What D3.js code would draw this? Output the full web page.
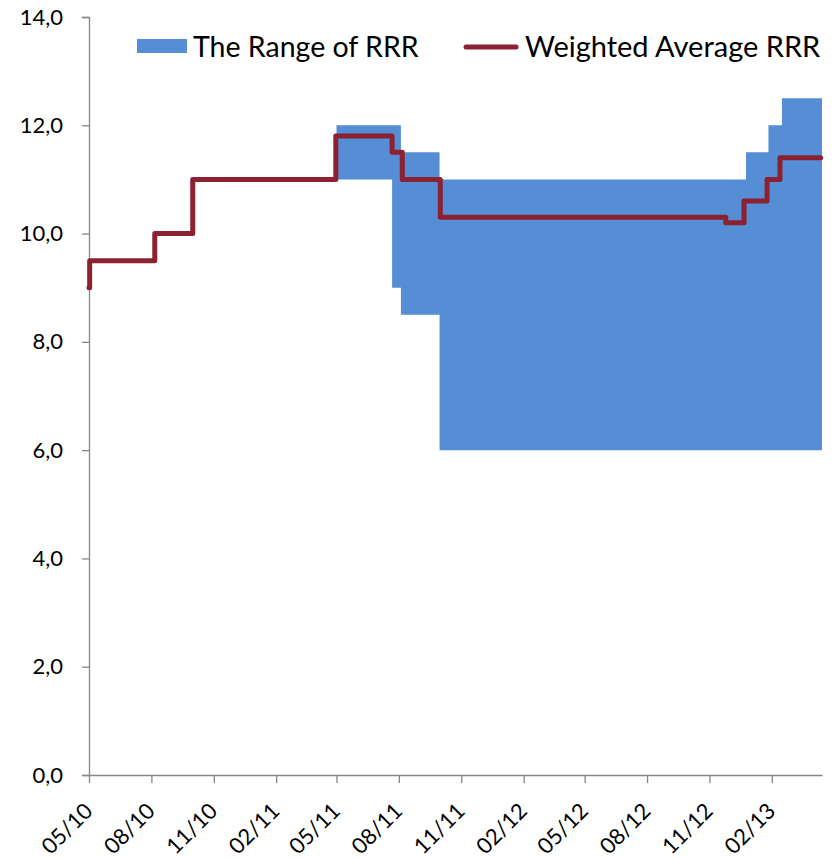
<!DOCTYPE html>
<html>
<head>
<meta charset="utf-8">
<script src="https://cdn.jsdelivr.net/npm/d3@7"></script>
<style>
  body { margin: 0; background: #fff; }
  text { font-family: Lato, "Open Sans", sans-serif; fill: #000; }
</style>
</head>
<body>
<script>
// Weighted average RRR (step series, value holds until the next date)
const avgDates = ["2010-05-01", "2010-05-02", "2010-08-06", "2010-10-01", "2011-04-30",
    "2011-07-22", "2011-08-06", "2011-10-01", "2012-11-25", "2012-12-22",
    "2013-01-25", "2013-02-13", "2013-04-14"];
const avgValues = [9.0, 9.5, 10.0, 11.0, 11.8, 11.5, 11.0, 10.3, 10.2, 10.6, 11.0, 11.4, 11.4];

// Range of RRR (low / high bounds)
const rangeDates = ["2011-05-01", "2011-07-22", "2011-08-04", "2011-09-30",
    "2012-12-25", "2013-01-27", "2013-02-16", "2013-04-16"];
const rangeLow = [11.0, 9.0, 8.5, 6.0, 6.0, 6.0, 6.0, 6.0];
const rangeHigh = [12.0, 12.0, 11.5, 11.0, 11.5, 12.0, 12.5, 12.5];

const xStart = "2010-05-01";
const xEnd = "2013-04-16";
const yTicks = [0, 2, 4, 6, 8, 10, 12, 14];
const legendLabels = ["The Range of RRR", "Weighted Average RRR"];

const width = 839, height = 858;
const margin = {top: 17, right: 17, bottom: 83, left: 89};
const blue = "#558ED5", red = "#8B2131", axisGrey = "#868686";

const parse = d3.timeParse("%Y-%m-%d");

const avgData = avgDates.map((d, i) => ({date: parse(d), v: avgValues[i]}));
const rangeData = rangeDates.map((d, i) => ({date: parse(d), lo: rangeLow[i], hi: rangeHigh[i]}));

const x = d3.scaleTime()
    .domain([parse(xStart), parse(xEnd)])
    .range([margin.left, width - margin.right]);

const y = d3.scaleLinear()
    .domain([0, 14])
    .range([height - margin.bottom, margin.top]);

const svg = d3.select("body").append("svg")
    .attr("width", width)
    .attr("height", height);

// range area
const area = d3.area()
    .x(d => x(d.date))
    .y0(d => y(d.lo))
    .y1(d => y(d.hi))
    .curve(d3.curveStepAfter);

svg.append("path")
    .datum(rangeData)
    .attr("fill", blue)
    .attr("d", area);

// y axis
const yAxis = d3.axisLeft(y)
    .tickValues(yTicks)
    .tickSize(7)
    .tickPadding(19)
    .tickFormat(d => d3.format(".1f")(d).replace(".", ","));

const gy = svg.append("g")
    .attr("transform", "translate(" + margin.left + ",0)")
    .call(yAxis);
gy.select(".domain").attr("stroke", axisGrey).attr("stroke-width", 1.3);
gy.selectAll(".tick line").attr("stroke", axisGrey).attr("stroke-width", 1.3);
gy.selectAll(".tick text")
    .style("font-size", "22px")
    .attr("fill", "#000");

// x axis - every 3 months starting at 05/10
const xTickVals = d3.timeMonth.range(parse(xStart), parse(xEnd), 3);
const xAxis = d3.axisBottom(x)
    .tickValues(xTickVals)
    .tickSize(8)
    .tickSizeOuter(0)
    .tickFormat(d3.timeFormat("%m/%y"));

const gx = svg.append("g")
    .attr("transform", "translate(0," + (height - margin.bottom) + ")")
    .call(xAxis);
gx.select(".domain").attr("stroke", axisGrey).attr("stroke-width", 1.3);
gx.selectAll(".tick line").attr("stroke", axisGrey).attr("stroke-width", 1.3);
gx.selectAll(".tick text")
    .style("font-size", "22px")
    .attr("fill", "#000")
    .attr("text-anchor", "end")
    .attr("x", 0).attr("y", 0)
    .attr("dy", "0.35em")
    .attr("transform", "translate(-1,32) rotate(-45)");

// weighted average line
const line = d3.line()
    .x(d => x(d.date))
    .y(d => y(d.v))
    .curve(d3.curveStepAfter);

svg.append("path")
    .datum(avgData)
    .attr("fill", "none")
    .attr("stroke", red)
    .attr("stroke-width", 5)
    .attr("stroke-linejoin", "round")
    .attr("stroke-linecap", "round")
    .attr("d", line);

// legend
const legend = svg.append("g").attr("class", "legend");
legend.append("rect")
    .attr("x", 137).attr("y", 39)
    .attr("width", 50).attr("height", 14)
    .attr("fill", blue);
legend.append("text")
    .attr("x", 193).attr("y", 47)
    .attr("dy", "0.35em")
    .style("font-size", "28.5px")
    .text(legendLabels[0]);
legend.append("line")
    .attr("x1", 466).attr("x2", 516)
    .attr("y1", 47).attr("y2", 47)
    .attr("stroke", red)
    .attr("stroke-width", 5)
    .attr("stroke-linecap", "round");
legend.append("text")
    .attr("x", 525).attr("y", 47)
    .attr("dy", "0.35em")
    .style("font-size", "29px")
    .text(legendLabels[1]);
</script>
</body>
</html>
